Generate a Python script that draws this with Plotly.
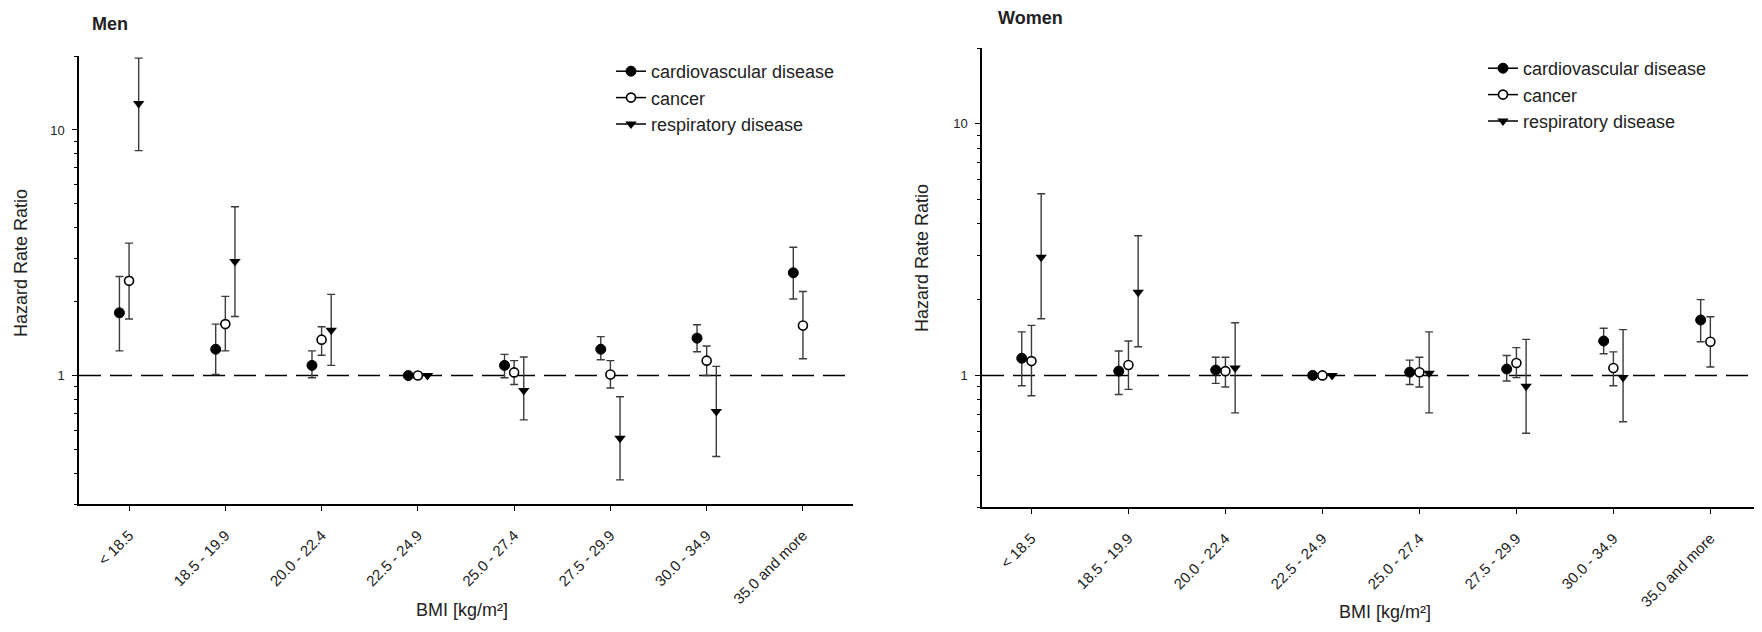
import numpy as np
import plotly.graph_objects as go

bmi_groups = ["< 18.5", "18.5 - 19.9", "20.0 - 22.4", "22.5 - 24.9",
              "25.0 - 27.4", "27.5 - 29.9", "30.0 - 34.9", "35.0 and more"]

# Men: hazard rate ratios with 95% CI (22.5 - 24.9 is the reference group)
men_cvd = [1.80, 1.28, 1.10, 1.0, 1.10, 1.28, 1.42, 2.62]
men_cvd_lo = [1.26, 1.01, 0.98, None, 0.98, 1.16, 1.25, 2.05]
men_cvd_hi = [2.53, 1.62, 1.26, None, 1.22, 1.44, 1.61, 3.33]
men_cancer = [2.43, 1.62, 1.40, 1.0, 1.03, 1.01, 1.15, 1.60]
men_cancer_lo = [1.70, 1.26, 1.21, None, 0.92, 0.89, 1.00, 1.17]
men_cancer_hi = [3.46, 2.10, 1.58, None, 1.15, 1.15, 1.32, 2.20]
men_resp = [12.8, 2.91, 1.53, 1.0, 0.87, 0.556, 0.714, None]
men_resp_lo = [8.24, 1.74, 1.10, None, 0.66, 0.376, 0.468, None]
men_resp_hi = [19.6, 4.87, 2.14, None, 1.19, 0.82, 1.09, None]

# Women
women_cvd = [1.17, 1.04, 1.05, 1.0, 1.03, 1.06, 1.37, 1.66]
women_cvd_lo = [0.91, 0.84, 0.93, None, 0.92, 0.95, 1.22, 1.36]
women_cvd_hi = [1.49, 1.25, 1.18, None, 1.15, 1.20, 1.54, 2.00]
women_cancer = [1.14, 1.10, 1.04, 1.0, 1.03, 1.12, 1.07, 1.36]
women_cancer_lo = [0.83, 0.88, 0.90, None, 0.90, 0.98, 0.91, 1.08]
women_cancer_hi = [1.58, 1.37, 1.18, None, 1.18, 1.29, 1.24, 1.71]
women_resp = [2.95, 2.14, 1.07, 1.0, 1.02, 0.906, 0.98, None]
women_resp_lo = [1.68, 1.30, 0.71, None, 0.71, 0.589, 0.654, None]
women_resp_hi = [5.27, 3.59, 1.62, None, 1.49, 1.39, 1.52, None]

FONT = "Arial, Liberation Sans, sans-serif"
BAR = "#3c3c3c"

# page body has an 8px margin, so the figure is a bit smaller than the window
W, H = 1746, 616
OFF = 8

def px(x):
    return (x - OFF) / W

def py(y):
    return 1 - (y - OFF) / H

series = [
    ("cardiovascular disease", dict(symbol="circle", color="black", size=10,
                                    line=dict(color="black", width=1)), -0.1),
    ("cancer", dict(symbol="circle", color="white", size=9,
                    line=dict(color="black", width=1.6)), 0.0),
    ("respiratory disease", dict(symbol="triangle-down", color="black", size=10,
                                 line=dict(color="black", width=0)), 0.1),
]

panels = [
    ("x", "y", "legend", [-0.52, 7.52],
     [(men_cvd, men_cvd_lo, men_cvd_hi),
      (men_cancer, men_cancer_lo, men_cancer_hi),
      (men_resp, men_resp_lo, men_resp_hi)]),
    ("x2", "y2", "legend2", [-0.51, 7.45],
     [(women_cvd, women_cvd_lo, women_cvd_hi),
      (women_cancer, women_cancer_lo, women_cancer_hi),
      (women_resp, women_resp_lo, women_resp_hi)]),
]

fig = go.Figure()
pos = np.arange(len(bmi_groups))

for xa, ya, leg, xr, data in panels:
    # reference line at HRR = 1
    fig.add_trace(go.Scatter(x=xr, y=[1, 1], mode="lines",
                             line=dict(color="black", width=1.5, dash="22px,9px"),
                             xaxis=xa, yaxis=ya, showlegend=False, hoverinfo="skip"))
    for (name, marker, off), (val, lo, hi) in zip(series, data):
        v = np.array(val, dtype=float)
        up = np.array(hi, dtype=float) - v
        dn = v - np.array(lo, dtype=float)
        fig.add_trace(go.Scatter(
            x=pos + off, y=v, mode="markers", name=name, marker=marker,
            error_y=dict(type="data", symmetric=False, array=up, arrayminus=dn,
                         color=BAR, thickness=1.4, width=4),
            xaxis=xa, yaxis=ya, showlegend=False))
        # legend entry with the line through the symbol
        fig.add_trace(go.Scatter(
            x=[None], y=[None], mode="lines+markers", name=name, marker=marker,
            line=dict(color="black", width=1.5), xaxis=xa, yaxis=ya, legend=leg))

major = [1, 10]
minor = [0.3, 0.4, 0.5, 0.6, 0.7, 0.8, 0.9, 2, 3, 4, 5, 6, 7, 8, 9, 20]

def yax(domain, anchor):
    return dict(type="log", range=[np.log10(0.3), np.log10(20)], domain=domain,
                anchor=anchor, tickvals=major, ticktext=["1", "10"], ticks="outside",
                ticklen=5, tickwidth=1.3, tickcolor="black", showline=True,
                linecolor="black", linewidth=1.5, showgrid=False, zeroline=False,
                automargin=False, ticklabelstandoff=5,
                tickfont=dict(family=FONT, size=13, color="#222"),
                minor=dict(tickvals=minor, ticks="outside", ticklen=3, tickwidth=1.2,
                           tickcolor="black", showgrid=False))

def xax(domain, anchor, xr):
    return dict(range=xr, domain=domain, anchor=anchor,
                tickvals=list(pos), ticktext=bmi_groups, tickangle=-45,
                ticks="outside", ticklen=5, tickwidth=1.3, tickcolor="black",
                showline=True, linecolor="black", linewidth=1.5, showgrid=False,
                zeroline=False, automargin=False, ticklabelstandoff=10,
                tickfont=dict(family=FONT, size=15, color="#222"))

fig.update_layout(
    width=W, height=H, template="none",
    plot_bgcolor="white", paper_bgcolor="white",
    margin=dict(l=0, r=0, t=0, b=0),
    font=dict(family=FONT, color="#222"),
    xaxis=xax([px(79), px(853)], "y", panels[0][3]),
    yaxis=yax([py(504), py(56)], "x"),
    xaxis2=xax([px(982), 1.0], "y2", panels[1][3]),
    yaxis2=yax([py(507), py(48)], "x2"),
    legend=dict(x=px(611), y=py(53), xanchor="left", yanchor="top",
                bgcolor="rgba(0,0,0,0)", font=dict(family=FONT, size=18, color="#222"),
                tracegroupgap=0),
    legend2=dict(x=px(1483), y=py(50), xanchor="left", yanchor="top",
                 bgcolor="rgba(0,0,0,0)", font=dict(family=FONT, size=18, color="#222"),
                 tracegroupgap=0),
    showlegend=True,
)

annots = [
    dict(text="<b>Men</b>", x=px(90), y=py(24), xanchor="left", font_size=18),
    dict(text="<b>Women</b>", x=px(996), y=py(18), xanchor="left", font_size=18),
    dict(text="Hazard Rate Ratio", x=px(21), y=py(263), textangle=-90, font_size=18),
    dict(text="Hazard Rate Ratio", x=px(922), y=py(258), textangle=-90, font_size=18),
    dict(text="BMI [kg/m²]", x=px(462), y=py(610), font_size=18),
    dict(text="BMI [kg/m²]", x=px(1385), y=py(612), font_size=18),
]
for a in annots:
    a.setdefault("xanchor", "center")
    fig.add_annotation(xref="paper", yref="paper", showarrow=False, yanchor="middle",
                       font=dict(family=FONT, size=a.pop("font_size"), color="#222"), **a)

fig.write_html("out.html")
